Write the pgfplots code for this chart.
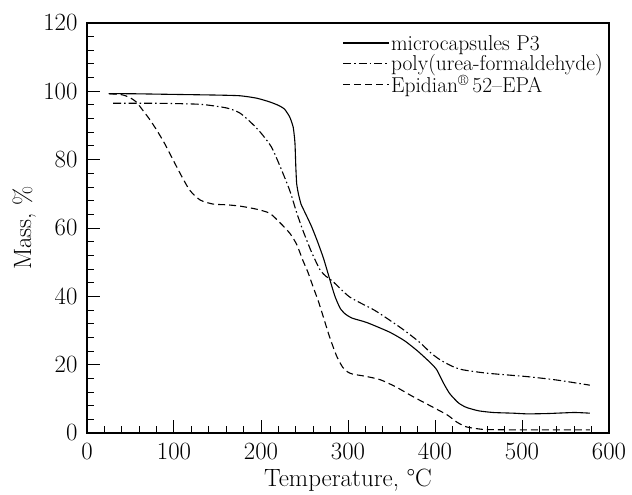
\documentclass[border=0pt]{standalone}
\usepackage{pgfplots}
\pgfplotsset{compat=1.18}
\usetikzlibrary{calc}
\newcommand{\lstrut}{\rule[-5bp]{0pt}{20.5bp}}
\begin{document}
\begin{tikzpicture}
\begin{axis}[
  scale only axis,
  width=522bp, height=410bp,
  xmin=0, xmax=600, ymin=0, ymax=120,
  xtick={0,100,...,600}, ytick={0,20,...,120},
  minor x tick num=4, minor y tick num=4,
  tick pos=left, tick align=inside,
  major tick length=13bp, minor tick length=7bp,
  axis line style={line width=1.1bp},
  every tick/.style={line width=1bp, black},
  ticklabel style={font=\fontsize{25bp}{28bp}\selectfont},
  xticklabel style={yshift=-7bp},
  yticklabel style={xshift=-6bp},
  xlabel={Temperature, \textdegree{}C},
  ylabel={Mass, \%},
  label style={font=\fontsize{25bp}{28bp}\selectfont},
  xlabel style={at={(axis description cs:0.5,-0.13)}, anchor=base},
  ylabel style={at={(axis description cs:-0.107,0.5)}, anchor=base},
  legend cell align=left,
  legend image code/.code={\draw[#1] (0bp,0bp) -- (46bp,0bp);},
  legend style={draw=none, fill=none, inner sep=0pt, row sep=0bp,
    font=\fontsize{21.5bp}{20bp}\selectfont,
    nodes={inner sep=1.5bp},
    at={(axis description cs:0.489,0.976)}, anchor=north west},
]
\addplot[black, line width=1.1bp, smooth, tension=0.35] coordinates {
(25,99.3) (50,99.3) (100,99.1) (150,98.9) (176,98.7) (195,98.0) (210,96.9)
(220,95.9) (227,94.8) (233,92.5) (237,89.5) (239,85) (240,78) (241,73)
(243,70) (246,67) (251,64.3) (258,60.5) (265,56) (272,51) (279,45) (285,40)
(291,36.5) (297,34.8) (305,33.6) (322,32.3) (348,29.5) (365,27) (380,24)
(395,20.5) (402,18.5) (410,14.5) (417,11.5) (427,8.8) (436,7.5) (450,6.5)
(467,6.0) (490,5.8) (506,5.6) (530,5.7) (560,6.0) (578,5.8)
};
\addlegendentry{\lstrut microcapsules P3}
\addplot[black, line width=1.1bp, smooth, tension=0.4, dash pattern=on 8bp off 3bp on 1.5bp off 3bp] coordinates {
(30,96.5) (80,96.5) (130,96.2) (161,95.1) (176,93.6) (190,90.5) (200,87.8)
(212,83.7) (222,78) (233,71) (241,64.5) (248,59.4) (258,53) (268,47.7)
(275,45.8) (282,44.5) (302,39.8) (330,36) (348,33) (365,30) (383,26.4)
(395,23.5) (406,21.4) (420,19.5) (432,18.5) (460,17.5) (506,16.5) (540,15.5) (578,14)
};
\addlegendentry{\lstrut poly(urea-formaldehyde)}
\addplot[black, line width=1.1bp, smooth, tension=0.4, dash pattern=on 7bp off 4bp] coordinates {
(26,99.3) (40,99) (49,98.2) (57,96.8) (64,94.5) (72,91.8) (80,88.7) (88,85.3)
(95,81.9) (107,76) (118,71.1) (130,68.2) (145,67) (160,66.8) (176,66.4)
(195,65.5) (210,64.3) (222,61.5) (233,58.5) (241,55.2) (248,50.6) (254,47)
(260,42.7) (266,38.5) (271,34.5) (279,28) (287,22.5) (294,19.2) (300,17.8)
(306,17.2) (320,16.6) (337,15.6) (355,13.5) (375,10.6) (395,7.9) (414,5.3)
(425,3.2) (436,1.8) (450,1.2) (460,1.0) (500,0.9) (540,0.9) (578,0.9)
};
\addlegendentry{\lstrut Epidian\textsuperscript{\textregistered}\,52--EPA}
\end{axis}
\path ($(current axis.south west)+(-87bp,-61bp)$) rectangle ($(current axis.north east)+(23bp,23bp)$);
\end{tikzpicture}
\end{document}
